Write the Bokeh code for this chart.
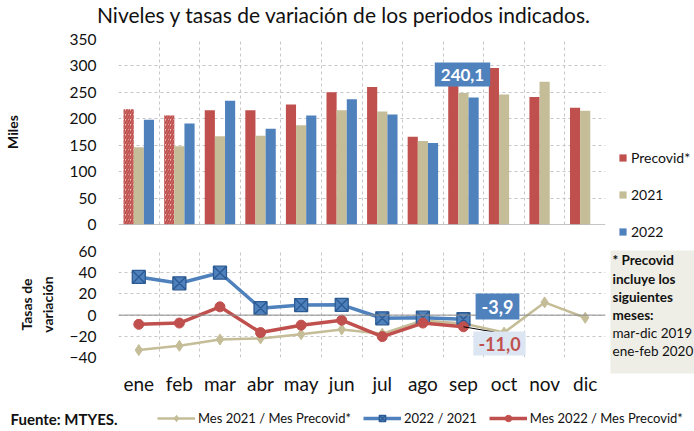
import math
from bokeh.plotting import figure
from bokeh.models import (ColumnDataSource, FactorRange, Range1d, FixedTicker, Span, Label,
                          Legend, LegendItem, CDSView, IndexFilter, Div, BoxAnnotation)
from bokeh.transform import dodge
from bokeh.layouts import column, row
from bokeh.embed import file_html
from bokeh.resources import INLINE

# ---------------- data ----------------
months = ["ene", "feb", "mar", "abr", "may", "jun", "jul", "ago", "sep", "oct", "nov", "dic"]
precovid = [218, 206, 216, 216, 227, 250, 260, 166, 270, 296, 241, 221]
v2021 = [146, 148, 167, 168, 188, 216, 214, 158, 249, 246, 270, 215]
v2022 = [198, 191, 234, 181, 206, 237, 208, 154, 240.1]
tasa_21_pre = [-33, -29, -23, -22, -18, -13.5, -17.5, -5, -8, -16.5, 12, -2.5]
tasa_22_21 = [36, 30, 40, 6.5, 9.5, 9.7, -3, -2.4, -3.9]
tasa_22_pre = [-8.7, -7.5, 7.8, -16.5, -9.5, -4.8, -20.3, -7.5, -11.0]
y_ticks_top = [0, 50, 100, 150, 200, 250, 300, 350]
y_ticks_bot = [-40, -20, 0, 20, 40, 60]
title_text = "Niveles y tasas de variación de los periodos indicados."
note_bold = ["* Precovid", "incluye los", "siguientes", "meses:"]
note_norm = ["mar-dic 2019", "ene-feb 2020"]

FONT = "Lato"
RED = "#c0504d"
TAN = "#c4bd97"
BLUE = "#4f81bd"
GRID = "#c6c6c6"
TXT = "#111111"

W = 694
FL = 115
FW = 490
RB = 3           # right border of the chart canvases
H1, H2, HT, HF = 213, 163, 29, 26
CW = FL + FW + RB  # chart canvas width
RW = W - CW        # right column width


def fmt(v):
    return f"{v:.1f}".replace(".", ",")


def style(p, yticks):
    p.outline_line_color = None
    p.yaxis.ticker = FixedTicker(ticks=yticks)
    p.yaxis.axis_line_color = None
    p.yaxis.major_tick_line_color = None
    p.yaxis.minor_tick_line_color = None
    p.yaxis.major_label_text_font = FONT
    p.yaxis.major_label_text_font_size = "15.5px"
    p.yaxis.major_label_text_color = TXT
    p.yaxis.major_label_standoff = 16
    p.yaxis.axis_label_text_font = FONT
    p.yaxis.axis_label_text_font_size = "14px"
    p.yaxis.axis_label_text_font_style = "bold"
    p.yaxis.axis_label_text_color = TXT
    p.ygrid.ticker = FixedTicker(ticks=yticks)
    p.ygrid.grid_line_color = GRID
    p.ygrid.grid_line_dash = "3 3"
    p.xgrid.ticker = FixedTicker(ticks=list(range(len(months) + 1)))
    p.xgrid.grid_line_color = GRID
    p.xgrid.grid_line_dash = "3 3"


def blank(p):
    p.outline_line_color = None
    p.grid.visible = False


# ---------------- title ----------------
title_div = Div(width=W, height=HT, margin=0, text=(
    f'<div style="width:{W}px;height:{HT}px;box-sizing:border-box;padding-right:7px;'
    f'text-align:center;font-family:{FONT};font-size:21px;line-height:{HT}px;color:{TXT};'
    f'white-space:nowrap">{title_text}</div>'))

# ---------------- top chart ----------------
p1 = figure(width=CW, height=H1, x_range=FactorRange(factors=months),
            y_range=Range1d(0, 350), output_backend="svg", toolbar_location=None,
            min_border_left=FL, min_border_right=RB, min_border_top=10,
            min_border_bottom=18)
style(p1, y_ticks_top)
p1.xaxis.visible = False
p1.yaxis.axis_label = "Miles"
p1.yaxis.axis_label_standoff = 46

src = ColumnDataSource(dict(month=months, pre=precovid, y21=v2021))
src22 = ColumnDataSource(dict(month=months[:len(v2022)], y22=v2022))


def draw_bars(p, hatched=True):
    if hatched:
        p.vbar(x=dodge("month", -0.25, range=p.x_range), top="pre", width=0.25, source=src,
               view=CDSView(filter=IndexFilter([0, 1])), fill_color="#efc6c4",
               hatch_pattern="/", hatch_color=RED, hatch_weight=2, hatch_scale=5,
               line_color=None)
    rp = p.vbar(x=dodge("month", -0.25, range=p.x_range), top="pre", width=0.25, source=src,
                view=CDSView(filter=IndexFilter(list(range(2, len(months))))),
                fill_color=RED, line_color=None)
    r1 = p.vbar(x=dodge("month", 0.0, range=p.x_range), top="y21", width=0.25, source=src,
                fill_color=TAN, line_color=None)
    r2 = p.vbar(x=dodge("month", 0.25, range=p.x_range), top="y22", width=0.25, source=src22,
                fill_color=BLUE, line_color=None)
    return rp, r1, r2


draw_bars(p1)
p1.add_layout(Span(location=0, dimension="width", line_color="#8c8c8c", line_width=1))
p1.add_layout(Label(x=344, y=150, x_units="screen", y_units="screen", text=fmt(v2022[-1]),
                    text_font=FONT, text_font_size="17px", text_font_style="bold",
                    text_color="white", background_fill_color=BLUE, padding=6,
                    text_align="center", text_baseline="middle"))

# ---------------- bottom chart ----------------
p2 = figure(width=CW, height=H2, x_range=FactorRange(factors=months),
            y_range=Range1d(-40, 60), output_backend="svg", toolbar_location=None,
            min_border_left=FL, min_border_right=RB, min_border_top=9, min_border_bottom=48)
style(p2, y_ticks_bot)
p2.yaxis.axis_label = "Tasas de\nvariación"
p2.yaxis.axis_label_standoff = 11
p2.xaxis.axis_line_color = None
p2.xaxis.major_tick_line_color = None
p2.xaxis.minor_tick_line_color = None
p2.xaxis.major_label_text_font = FONT
p2.xaxis.major_label_text_font_size = "19px"
p2.xaxis.major_label_text_color = TXT
p2.xaxis.major_label_standoff = 8

p2.add_layout(Span(location=0, dimension="width", line_color="#8c8c8c", line_width=1))

s_tan = ColumnDataSource(dict(month=months, v=tasa_21_pre))
s_blue = ColumnDataSource(dict(month=months[:len(tasa_22_21)], v=tasa_22_21))
s_red = ColumnDataSource(dict(month=months[:len(tasa_22_pre)], v=tasa_22_pre))


def draw_lines(p):
    lt = p.line("month", "v", source=s_tan, line_color=TAN, line_width=2.5)
    mt = p.scatter("month", "v", source=s_tan, marker="diamond", size=11,
                   fill_color=TAN, line_color=TAN)
    lb = p.line("month", "v", source=s_blue, line_color=BLUE, line_width=3.5)
    mb = p.scatter("month", "v", source=s_blue, marker="square_x", size=13,
                   fill_color=BLUE, line_color="#2c5a92", line_width=1.3)
    lr = p.line("month", "v", source=s_red, line_color=RED, line_width=3.5)
    mr = p.scatter("month", "v", source=s_red, marker="circle", size=10,
                   fill_color=RED, line_color=RED)
    return (lt, mt), (lb, mb), (lr, mr)


draw_lines(p2)

# leader line for the -11,0 label
p2.segment(x0=[months[len(tasa_22_pre) - 1]], y0=[tasa_22_pre[-1]], x1=[9.26], y1=[-16.0],
           line_color="black", line_width=1)

p2.add_layout(Label(x=379, y=51, x_units="screen", y_units="screen", text=fmt(tasa_22_21[-1]),
                    text_font=FONT, text_font_size="18px", text_font_style="bold",
                    text_color="white", background_fill_color=BLUE, padding=6,
                    text_align="center", text_baseline="middle"))
p2.add_layout(Label(x=381, y=14, x_units="screen", y_units="screen", text=fmt(tasa_22_pre[-1]),
                    text_font=FONT, text_font_size="18px", text_font_style="bold",
                    text_color=RED, background_fill_color="#dce6f2", padding=5,
                    text_align="center", text_baseline="middle"))

# ---------------- right column: bar legend + note ----------------
pr = figure(width=RW, height=H1 + H2, x_range=FactorRange(factors=months),
            y_range=Range1d(1000, 1001), output_backend="svg", toolbar_location=None,
            min_border=0, x_axis_location=None, y_axis_location=None)
blank(pr)
lp, l1, l2 = draw_bars(pr, hatched=False)
leg1 = Legend(items=[LegendItem(label="Precovid*", renderers=[lp]),
                     LegendItem(label="2021", renderers=[l1]),
                     LegendItem(label="2022", renderers=[l2])],
              location=(10, 165), orientation="vertical", padding=0, margin=0,
              glyph_width=9, glyph_height=9, label_height=17, spacing=20, label_standoff=4,
              label_text_font=FONT, label_text_font_size="14px", label_text_color=TXT,
              background_fill_alpha=0, border_line_color=None)
pr.add_layout(leg1, "center")

pr.add_layout(BoxAnnotation(left=2, right=RW, bottom=32, top=155,
                            left_units="screen", right_units="screen",
                            bottom_units="screen", top_units="screen",
                            fill_color="#eeede6", fill_alpha=1, line_color=None))
note_y = [146, 127, 109, 91, 73, 55]
for i, t in enumerate(note_bold + note_norm):
    pr.add_layout(Label(x=4, y=note_y[i], x_units="screen", y_units="screen", text=t,
                        text_font=FONT, text_font_size="13.5px",
                        text_font_style="bold" if i < len(note_bold) else "normal",
                        text_color=TXT, text_align="left", text_baseline="middle"))

# ---------------- footer (source + line legend) ----------------
pf = figure(width=W, height=HF, x_range=FactorRange(factors=months), y_range=Range1d(1000, 1001),
            output_backend="svg", toolbar_location=None, min_border=0,
            x_axis_location=None, y_axis_location=None)
blank(pf)
g_tan, g_blue, g_red = draw_lines(pf)
pf.add_layout(Label(x=10, y=13, x_units="screen", y_units="screen", text="Fuente: MTYES.",
                    text_font=FONT, text_font_size="15px", text_font_style="bold",
                    text_color=TXT, text_align="left", text_baseline="middle"))
leg2 = Legend(items=[LegendItem(label="Mes 2021 / Mes Precovid*", renderers=list(g_tan)),
                     LegendItem(label="2022 / 2021", renderers=list(g_blue)),
                     LegendItem(label="Mes 2022 / Mes Precovid*", renderers=list(g_red))],
              location=(157, 5), orientation="horizontal", padding=0, margin=0,
              glyph_width=38, glyph_height=16, label_height=16, spacing=12, label_standoff=3,
              label_text_font=FONT, label_text_font_size="13px", label_text_color=TXT,
              background_fill_alpha=0, border_line_color=None)
pf.add_layout(leg2, "center")

layout = column(title_div, row(column(p1, p2, spacing=0), pr, spacing=0), pf, spacing=0)
open("out.html", "w").write(file_html(layout, INLINE))
